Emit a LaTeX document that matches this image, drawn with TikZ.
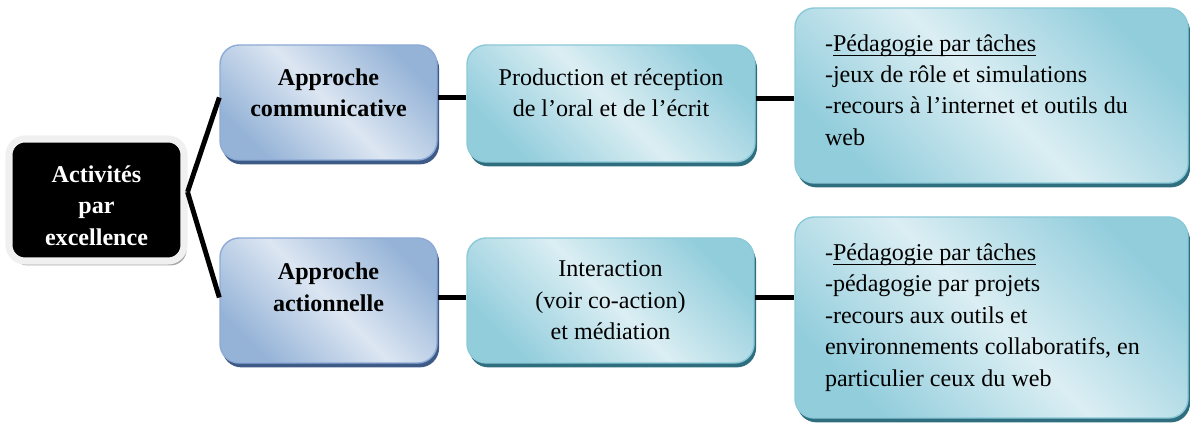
\documentclass[tikz,border=0pt]{standalone}
\usepackage{fontspec}
\setmainfont{Liberation Serif}
\usetikzlibrary{shadows}
\definecolor{blueLight}{HTML}{DCE6F2}
\definecolor{blueDark}{HTML}{95B3D7}
\definecolor{blueEdge}{HTML}{8EAAD6}
\definecolor{blueShadow}{HTML}{3E5A86}
\definecolor{tealLight}{HTML}{DBEEF3}
\definecolor{tealDark}{HTML}{92CDDC}
\definecolor{tealEdge}{HTML}{8CC9D8}
\definecolor{tealShadow}{HTML}{2F6E7E}
\newsavebox{\ulinebox}
\newcommand{\lineunder}[1]{\sbox{\ulinebox}{#1}\rlap{\rule[-2.6pt]{\wd\ulinebox}{0.6pt}}\usebox{\ulinebox}}
\tikzset{%
  box/.style={
    rounded corners=11pt, align=flush center, inner sep=0pt,
    font=\fontsize{13.7}{17.9}\selectfont},
  approach/.style={box, draw=blueEdge, line width=0.8pt,
    left color=blueDark, right color=blueDark, middle color=blueLight,
    shading angle=135,
    font=\fontsize{13.7}{17.9}\selectfont\bfseries,
    drop shadow={shadow xshift=1.2pt, shadow yshift=-2.5pt, fill=blueShadow, opacity=1}},
  activity/.style={box, draw=tealEdge, line width=0.8pt,
    left color=tealDark, right color=tealDark, middle color=tealLight,
    shading angle=135,
    drop shadow={shadow xshift=1.2pt, shadow yshift=-2.5pt, fill=tealShadow, opacity=1}},
  root/.style={box, rounded corners=9pt, fill=black, draw=black!6, line width=4pt,
    text=white, font=\fontsize{13.7}{17.9}\selectfont\bfseries,
    drop shadow={shadow xshift=1.5pt, shadow yshift=-2.5pt, fill=black!35, opacity=1}},
  link/.style={line width=2.8pt, draw=#1},
  link/.default=black
}

\begin{document}
\begin{tikzpicture}

    % Fix the page size to the one of the reference
    \useasboundingbox (0,0) rectangle (23.8,8.5);

    % The root box on the left
    \node[root, minimum width=3.5cm, minimum height=2.44cm] (main) at (1.93,4.5)
        {\\[-0.07cm]Activités\\par\\excellence};

    % The two approaches
    \node[approach, minimum width=4.34cm, minimum height=2.3cm]
        (comm) at (6.57,6.45) {Approche\\communicative\\[-0.23cm]};
    \node[approach, minimum width=4.34cm, minimum height=2.5cm]
        (action) at (6.57,2.49) {Approche\\actionnelle\\[-0.09cm]};

    % What each approach works on
    \node[activity, minimum width=5.76cm, minimum height=2.34cm] (prod) at (12.22,6.43)
        {Production et réception\\de l’oral et de l’écrit\\[-0.19cm]};
    \node[activity, minimum width=5.74cm, minimum height=2.5cm] (inter) at (12.21,2.49)
        {Interaction\\(voir co-action)\\et médiation};

    % Activities in each case
    \node[activity, minimum width=7.86cm, minimum height=3.5cm, text width=6.66cm, align=flush left]
        (tasks1) at (19.83,6.59)
        {-\lineunder{Pédagogie par tâches}\\-jeux de rôle et simulations\\-recours à l’internet et outils du\\web\par\vspace{0.22cm}\hrule height 0pt};
    \node[activity, minimum width=7.86cm, minimum height=4.02cm, text width=6.66cm, align=flush left]
        (tasks2) at (19.83,2.15)
        {-\lineunder{Pédagogie par tâches}\\-pédagogie par projets\\-recours aux outils et\\environnements collaboratifs, en\\particulier ceux du web};

    % Connectors
    \coordinate (fork) at ([yshift=0.16cm]main.east);
    \draw[link] (fork) -- ([yshift=0.1cm]comm.west);
    \draw[link] (fork) -- ([yshift=0.06cm]action.west);
    \draw[link] ([yshift=0.1cm]comm.east) -- ([yshift=0.1cm]comm.east -| prod.west);
    \draw[link] ([yshift=0.1cm]prod.east) -- ([yshift=0.1cm]prod.east -| tasks1.west);
    \draw[link] ([yshift=0.06cm]action.east) -- ([yshift=0.06cm]inter.west);
    \draw[link] ([yshift=0.06cm]inter.east) -- ([yshift=0.06cm]inter.east -| tasks2.west);

\end{tikzpicture}
\end{document}
